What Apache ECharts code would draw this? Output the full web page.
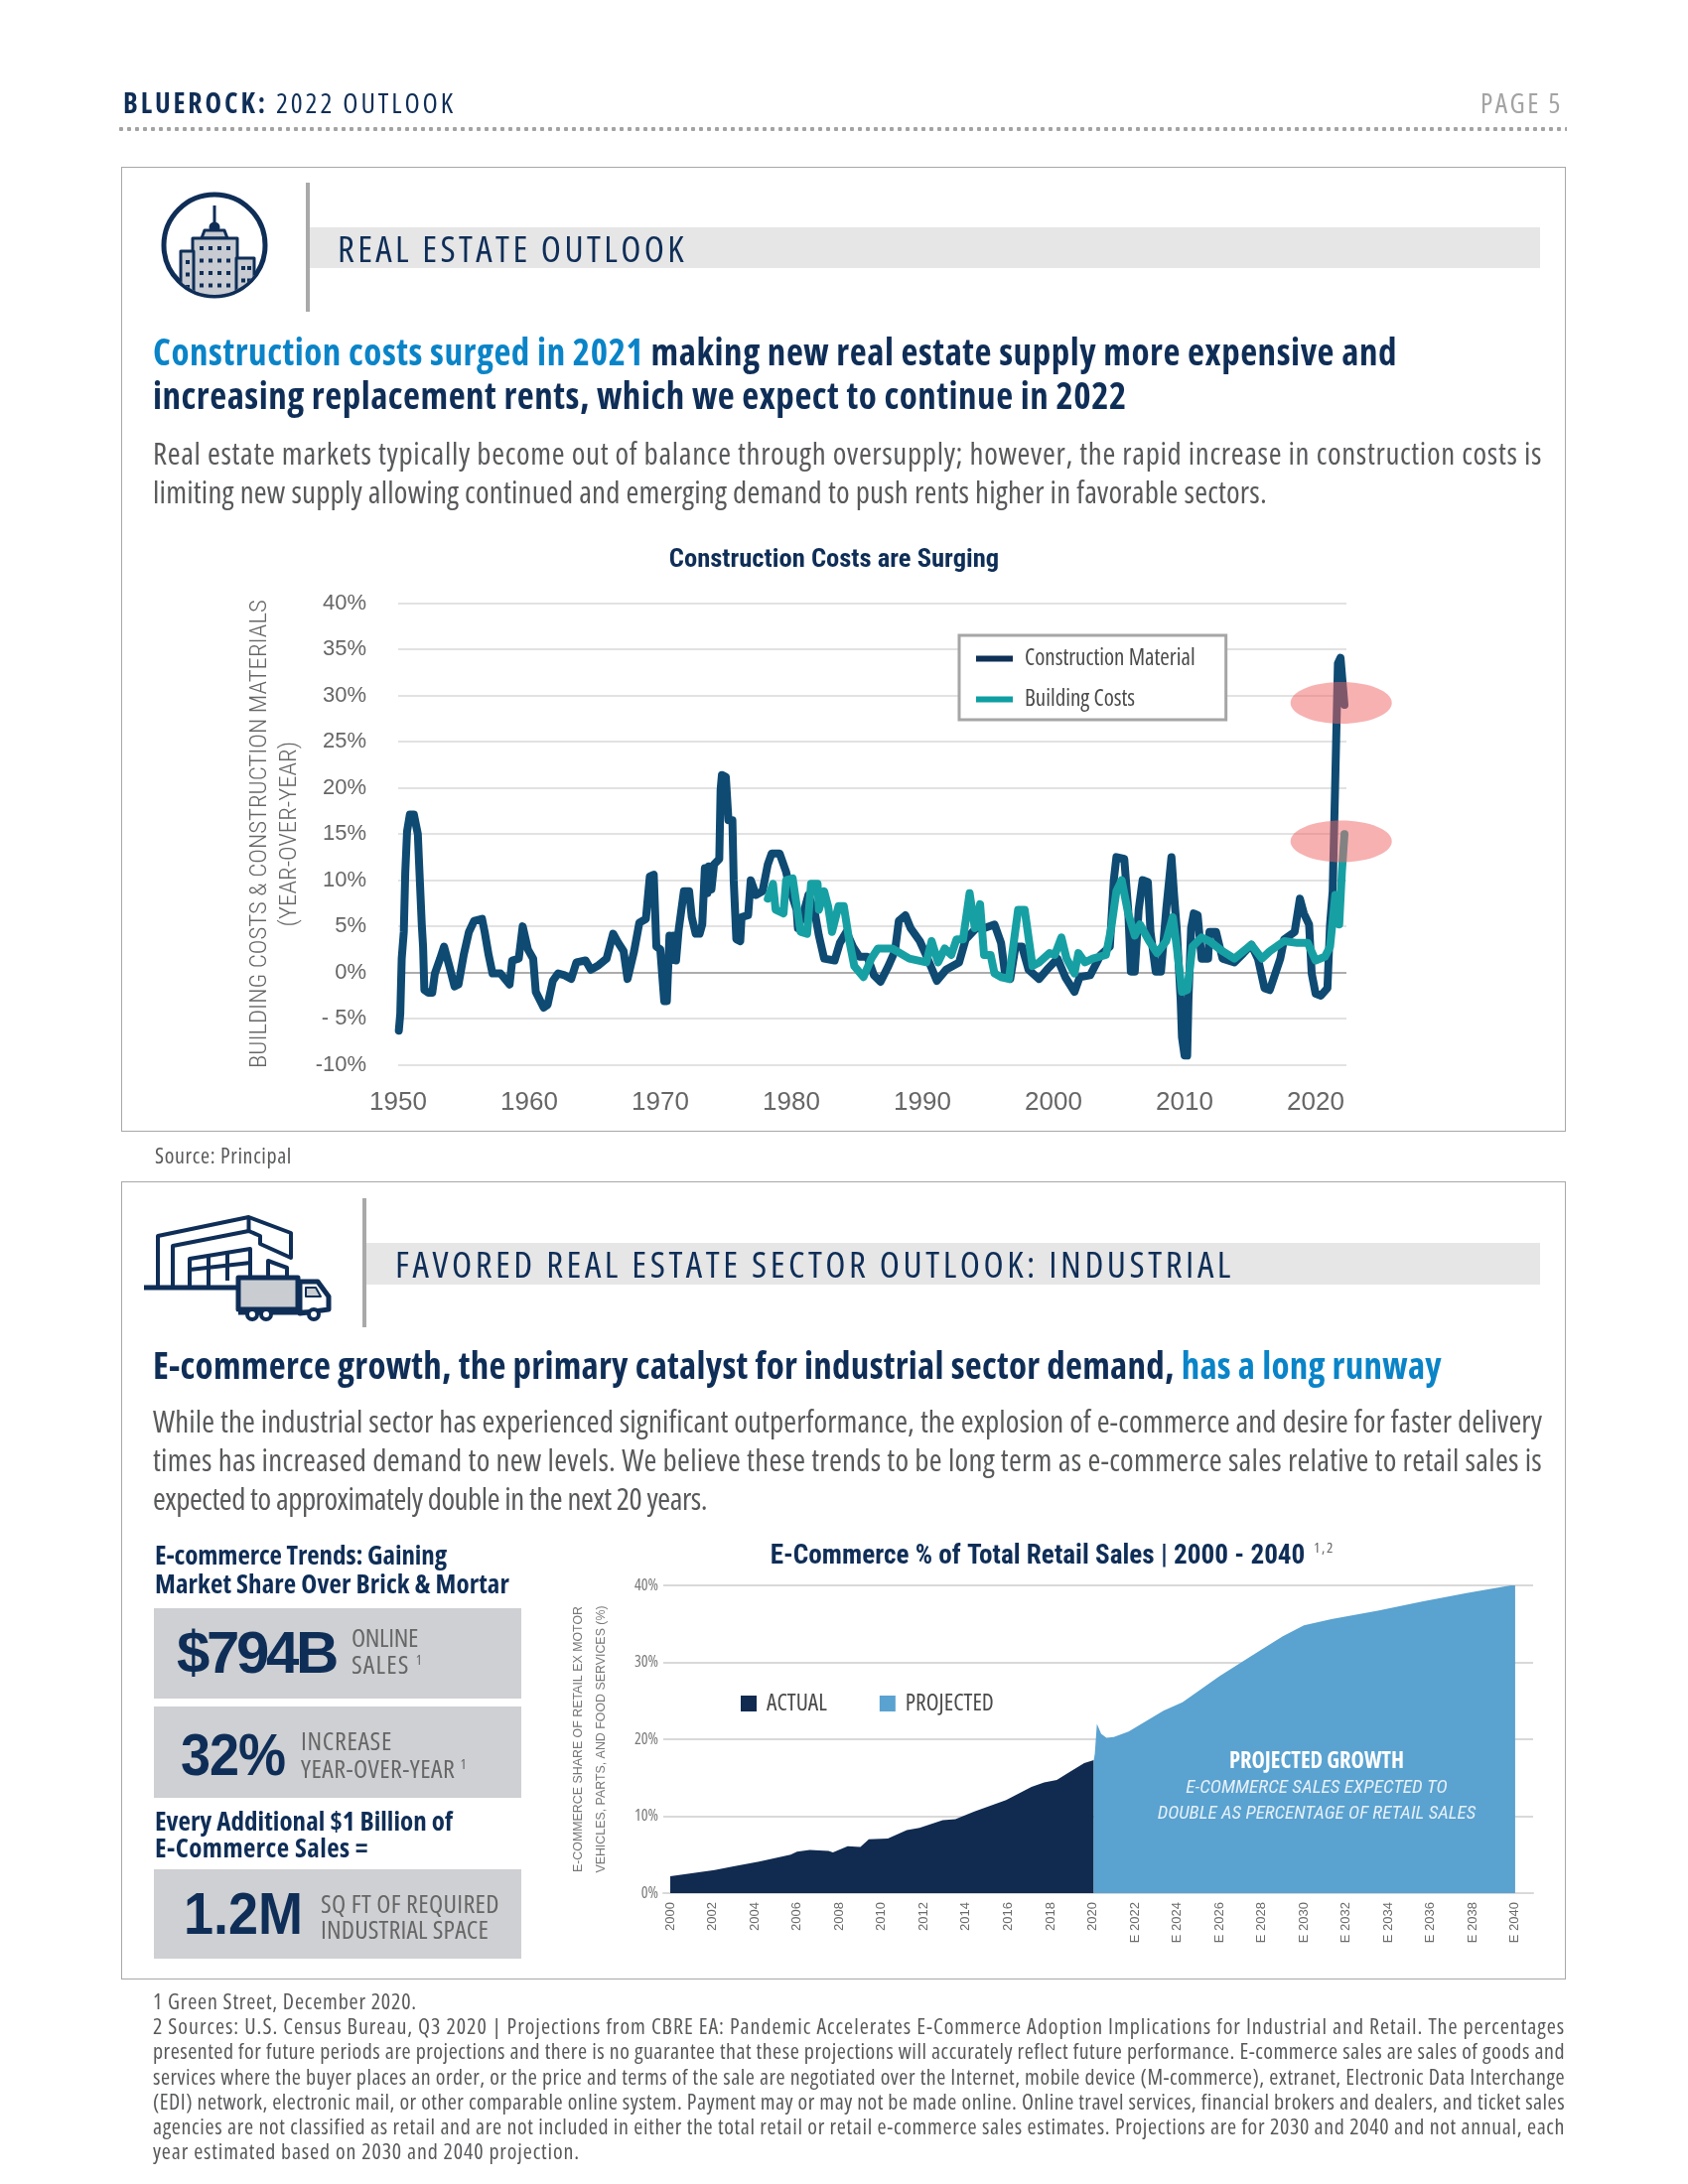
<!DOCTYPE html>
<html><head><meta charset="utf-8"><title>Bluerock 2022 Outlook</title>
<script src="https://cdn.jsdelivr.net/npm/echarts@6/dist/echarts.min.js"></script>
<style>
html,body{margin:0;padding:0;background:#fff;}
#page{position:relative;width:1700px;height:2200px;overflow:hidden;font-family:"Open Sans",sans-serif;font-stretch:75%;}
.box{position:absolute;box-sizing:border-box;}
.t{position:absolute;white-space:nowrap;transform-origin:left center;line-height:1.2;}
#chart{position:absolute;left:0;top:0;width:1700px;height:2200px;}
svg{position:absolute;left:0;top:0;}
sup{font-size:55%;line-height:0;vertical-align:baseline;position:relative;top:-.6em;}
</style></head><body>
<div id="page">
<div class="box" style="left:118px;top:126px;width:1460px;height:8px;background-image:radial-gradient(circle,#a3a3a3 2px,transparent 2.5px);background-size:8px 8px;"></div>
<div class="box" style="left:122px;top:168px;width:1455px;height:972px;border:1.5px solid #a8a8a8;"></div>
<div class="box" style="left:122px;top:1190px;width:1455px;height:804px;border:1.5px solid #a8a8a8;"></div>
<div class="box" style="left:308px;top:184px;width:4px;height:130px;background:#a9a9a9;"></div>
<div class="box" style="left:312px;top:229px;width:1239px;height:41px;background:#e6e6e7;"></div>
<div class="box" style="left:365px;top:1207px;width:4px;height:130px;background:#a9a9a9;"></div>
<div class="box" style="left:369px;top:1252px;width:1182px;height:42px;background:#e6e6e7;"></div>
<div class="box" style="left:155px;top:1620px;width:370px;height:91px;background:#cfd0d3;"></div>
<div class="box" style="left:155px;top:1719px;width:370px;height:92px;background:#cfd0d3;"></div>
<div class="box" style="left:155px;top:1883px;width:370px;height:90px;background:#cfd0d3;"></div>
<svg width="1700" height="2200" fill="none" stroke="#0f2e57" stroke-linejoin="round">
  <defs><clipPath id="cc"><circle cx="216" cy="247" r="50"/></clipPath></defs>
  <circle cx="216" cy="247" r="51" stroke-width="5"/>
  <g clip-path="url(#cc)" stroke-width="3">
    <path d="M216 207V228" stroke-width="3"/>
    <circle cx="216" cy="229" r="4" fill="#0f2e57"/>
    <path d="M203 240L206 232H226L229 240Z" fill="#c8cbd1"/>
    <rect x="194" y="240" width="45" height="62" fill="#c8cbd1"/>
    <rect x="182" y="253" width="13" height="50" fill="#c8cbd1"/>
    <rect x="238" y="260" width="18" height="42" fill="#c8cbd1"/>
    <g stroke="#0f2e57" stroke-width="4" stroke-dasharray="4 8.5">
      <path d="M203 248V300"/><path d="M212 248V300"/><path d="M221 248V300"/><path d="M230 248V300"/>
      <path d="M189 262V300"/><path d="M245 268V300"/><path d="M251 268V300"/>
    </g>
  </g>
  <g stroke-width="4">
    <path d="M145 1297H241" stroke-width="5"/>
    <path d="M159 1297V1245L250.500 1226L293 1242V1267L262 1253V1245L250.500 1240L174 1255V1297"/>
    <path d="M250.500 1226V1240"/>
    <path d="M191 1297V1268L252 1258V1287"/><path d="M191 1279L252 1272"/>
    <path d="M210 1265V1297"/><path d="M229 1262V1290"/>
    <path d="M270 1287V1270L289 1277V1287"/>
    <rect x="240" y="1287" width="60" height="32" fill="#c9ccd1" stroke-width="5"/>
    <path d="M302 1291H320L331 1306V1319L302 1323Z" fill="#fff" stroke-width="5"/>
    <path d="M308 1297H318L323 1306H308Z" fill="#c9ccd1" stroke-width="2"/>
    <path d="M240 1322H312" stroke-width="5"/>
    <circle cx="254" cy="1324" r="5" fill="#fff"/><circle cx="268" cy="1324" r="5" fill="#fff"/><circle cx="316" cy="1324" r="5" fill="#fff"/>
  </g>
</svg>
<div id="chart"></div>
<div id="texts"></div>
</div>
<script>
// ---------- chart 1 data: Construction Material ----------
const materialYears = [1950.05,1950.16,1950.27,1950.43,1950.54,1950.68,1950.89,1951.2,1951.5,1951.6,1951.8,1951.9,1952.0,1952.3,1952.6,1952.8,1953.2,1953.5,1953.9,1954.3,1954.6,1955.0,1955.4,1955.8,1956.4,1956.6,1956.9,1957.2,1957.8,1958.5,1958.7,1959.2,1959.5,1959.9,1960.3,1960.5,1961.1,1961.4,1961.8,1962.2,1962.7,1963.2,1963.6,1964.3,1964.7,1965.3,1965.9,1966.4,1966.8,1967.2,1967.5,1968.0,1968.4,1968.9,1969.2,1969.5,1969.6,1969.7,1970.0,1970.3,1970.5,1970.7,1970.8,1971.0,1971.2,1971.4,1971.8,1972.2,1972.4,1972.7,1973.0,1973.2,1973.4,1973.6,1973.7,1973.9,1974.1,1974.5,1974.6,1974.7,1975.0,1975.2,1975.5,1975.6,1975.8,1976.1,1976.2,1976.7,1976.9,1977.3,1977.8,1978.2,1978.5,1979.1,1979.6,1979.9,1980.4,1980.5,1981,1981.3,1981.8,1982.1,1982.5,1983.3,1983.7,1984.2,1984.7,1985.2,1985.8,1986.3,1986.8,1987.4,1987.9,1988.2,1988.7,1989.1,1989.8,1990.4,1991.1,1991.8,1992.8,1993.3,1994.1,1994.7,1995.5,1996,1996.3,1996.7,1997.1,1997.6,1998.1,1998.9,1999.5,2000.3,2000.9,2001.6,2002.0,2002.8,2003.6,2004.3,2004.6,2004.8,2005.4,2005.7,2005.9,2006.2,2006.5,2006.8,2007.2,2007.4,2007.8,2008.2,2008.6,2009,2009.2,2009.4,2009.7,2009.8,2010,2010.2,2010.3,2010.5,2010.7,2011,2011.3,2011.8,2011.9,2012.4,2012.9,2013.8,2014.5,2015.1,2015.6,2016.1,2016.5,2017.3,2017.6,2018.4,2018.8,2019.1,2019.5,2019.7,2020,2020.4,2020.9,2021.1,2021.3,2021.5,2021.7,2021.9,2022.2];
const materialValues = [-6.3,-4.5,1.5,4.4,10.8,15.3,17.1,17.1,15,11.7,5.2,2.8,-1.9,-2.2,-2.2,-0.1,1.5,2.8,0.7,-1.5,-1.3,1.9,4.4,5.6,5.8,4.4,1.9,-0.1,-0.1,-1.3,1.3,1.5,5,2.5,1.5,-2.1,-3.8,-3.5,-0.9,-0.1,-0.3,-0.7,1.1,1.3,0.3,0.8,1.5,4.2,3.2,2.3,-0.7,2.3,5.4,5.8,10.4,10.6,6.8,2.8,2.5,-3.1,-3.1,4,1.3,4,1.3,4.6,8.8,8.8,6,4.2,4.2,5.2,11.3,8.6,11.5,9,11.7,12.3,19.8,21.4,21.2,16.5,16.5,10,3.6,3.4,6,6.2,10,8.4,8.8,11.7,12.9,12.9,10.9,9,6.8,4.8,6.8,8.4,6.4,4,1.5,1.3,3.2,4.4,2.8,1.7,1.7,-0.3,-1,0.7,2.3,5.6,6.2,4.8,3.4,1.5,-0.9,0.3,1.1,3.6,4.8,4.8,5.2,3.2,-0.1,-0.7,2.8,2.8,0.3,-0.7,0.3,1.5,-0.5,-2.1,-0.5,-0.3,1.9,2.8,10,12.5,12.3,6.8,0.1,0.1,6.8,10,9.8,4.4,0.1,0.1,6.8,12.5,8.4,4.8,-2.9,-7,-9,-9,-2.9,4.8,6.4,6.2,1.5,1.5,4.4,4.4,1.5,1.1,2.1,3,1.5,-1.7,-1.9,1.5,3.6,4.4,8,6.4,5.2,-0.1,-2.3,-2.5,-1.7,5.2,8.8,21,33.5,34.1,29];
// ---------- chart 1 data: Building Costs ----------
const buildingYears = [1978.2,1978.6,1978.8,1979.4,1979.6,1980.1,1980.7,1981.2,1981.5,1982,1982.1,1982.5,1982.8,1983.1,1983.6,1984.0,1984.4,1984.8,1985.5,1986.1,1986.6,1987.7,1989,1990.3,1990.7,1991.2,1991.7,1992.2,1992.6,1993.1,1993.6,1994,1994.4,1994.7,1995.2,1995.5,1996,1996.6,1997,1997.3,1997.8,1998.4,1998.9,1999.7,2000.1,2000.6,2001,2001.6,2001.9,2002.4,2003,2004,2004.4,2004.8,2005.2,2005.7,2006.2,2006.6,2007.3,2007.9,2008.6,2009.1,2009.4,2009.8,2010.2,2010.6,2011.3,2011.9,2012.9,2013.8,2015.1,2015.9,2016.5,2017.6,2018.6,2019.4,2020,2020.7,2021.1,2021.5,2021.8,2022,2022.2];
const buildingValues = [8,9.6,6.8,6.4,10,10.2,4.4,4.2,9.6,9.6,6.8,8.8,7.2,4.4,7.2,7.2,3.6,0.7,-0.5,1.5,2.6,2.6,1.5,1.1,3.4,1.1,2.6,1.9,3.6,3.6,8.6,4.8,7.4,1.9,1.9,-0.1,-0.5,-0.7,3.6,6.8,6.8,0.7,1.1,2.1,1.9,3.8,1.5,-0.1,2.1,1.1,1.5,1.9,4.8,8.8,10,6.4,4,5.2,3.4,2.1,3.4,6,2.8,-2.1,-1.9,2.8,3.8,3.4,2.3,1.5,3,1.5,2.3,3.4,3.2,3.2,1.3,1.7,2.8,8.4,5.2,10.8,15];
const costsXTicks = [1950,1960,1970,1980,1990,2000,2010,2020];
const costsYTicks = [-10,-5,0,5,10,15,20,25,30,35,40];
const costsYLabels = ['-10%','- 5%','0%','5%','10%','15%','20%','25%','30%','35%','40%'];
const highlightPoints = [[2021.95,29.2],[2021.95,14.2]];
// ---------- chart 2 data ----------
const actualYears = [2000,2002.1,2003,2004.2,2005.7,2006,2006.6,2007.5,2007.7,2008.4,2009,2009.4,2010.3,2011.2,2011.8,2012.9,2013.5,2014.4,2015.9,2017.1,2017.7,2018.3,2019,2019.6,2020.05];
const actualValues = [2.2,3.0,3.5,4.1,5.0,5.4,5.6,5.5,5.3,6.1,6.0,7.0,7.1,8.2,8.5,9.5,9.6,10.6,12.1,13.8,14.4,14.7,15.9,16.9,17.3];
const projectedYears = [2020.05,2020.1,2020.2,2020.4,2020.65,2021,2021.7,2023.35,2024.25,2026,2027.5,2029,2030,2031.3,2033.5,2035.6,2037.7,2040];
const projectedValues = [17.3,18.1,22,20.7,20.2,20.3,21,23.7,24.8,28.2,30.8,33.4,34.8,35.6,36.7,37.9,39,40.1];
const shareXTicks = [2000,2002,2004,2006,2008,2010,2012,2014,2016,2018,2020,2022,2024,2026,2028,2030,2032,2034,2036,2038,2040];
const shareXLabels = ['2000','2002','2004','2006','2008','2010','2012','2014','2016','2018','2020','E 2022','E 2024','E 2026','E 2028','E 2030','E 2032','E 2034','E 2036','E 2038','E 2040'];
const shareYTicks = [0,10,20,30,40];
const shareYLabels = ['0%','10%','20%','30%','40%'];

const OPEN = '"Open Sans"', RC = '"Roboto Condensed"', SANS = '"Liberation Sans"';
const NAVY = '#0f2e57', BLUE = '#0a84c8', GRAY = '#58595b';
const zip = (a, b) => a.map((v, i) => [v, b[i]]);

const chart = echarts.init(document.getElementById('chart'), null, {renderer: 'canvas'});
const option = {
  animation: false,
  backgroundColor: 'transparent',
  title: [
    {text: 'Construction Costs are Surging', left: 840, top: 551, textAlign: 'center', padding: 0,
     textStyle: {fontFamily: RC, fontSize: 26.6, fontWeight: 'bold', color: NAVY}},
    {text: 'E-Commerce % of Total Retail Sales | 2000 - 2040', left: 1045, top: 1555, textAlign: 'center', padding: 0,
     textStyle: {fontFamily: RC, fontSize: 27.2, fontWeight: 'bold', color: NAVY}}
  ],
  legend: [
    {orient: 'vertical', left: 966, top: 640, padding: [12, 31, 9, 17], itemGap: 18, itemWidth: 37, itemHeight: 6, selectedMode: false,
     backgroundColor: '#fff', borderColor: '#a6a6a6', borderWidth: 3, borderRadius: 0,
     textStyle: {fontFamily: OPEN, fontSize: 23, fontWeight: 'condensed', color: '#4a4a4a', padding: [0, 0, 0, 7]},
     data: [{name: 'Construction Material', icon: 'rect', itemStyle: {color: '#0f3057'}},
            {name: 'Building Costs', icon: 'rect', itemStyle: {color: '#0e9fa3'}}]},
    {orient: 'horizontal', left: 746, top: 1704, padding: 0, itemGap: 53, itemWidth: 16, itemHeight: 16, selectedMode: false,
     textStyle: {fontFamily: OPEN, fontSize: 23.5, fontWeight: 'condensed', color: '#4a4a4a', padding: [0, 0, 0, 5]},
     data: [{name: 'ACTUAL', icon: 'rect'}, {name: 'PROJECTED', icon: 'rect'}]}
  ],
  grid: [
    {left: 401, top: 607.7, width: 955, height: 464.9, containLabel: false},
    {left: 668, top: 1597, width: 876, height: 310, containLabel: false}
  ],
  xAxis: [
    {type: 'value', gridIndex: 0, min: 1950, max: 2022.35,
     axisLine: {show: false}, axisTick: {show: false}, splitLine: {show: false},
     axisLabel: {margin: 25, fontFamily: SANS, fontSize: 26, color: '#666',
       customValues: costsXTicks, formatter: v => String(v)}},
    {type: 'value', gridIndex: 1, min: 1999.67, max: 2040.85,
     axisLine: {show: true, lineStyle: {color: '#d9d9d9', width: 2}}, axisTick: {show: false}, splitLine: {show: false},
     axisLabel: {margin: 9, rotate: 90, fontFamily: SANS, fontSize: 13, color: '#6b6b6b',
       customValues: shareXTicks, formatter: v => shareXLabels[shareXTicks.indexOf(v)]}}
  ],
  yAxis: [
    {type: 'value', gridIndex: 0, min: -10, max: 40, interval: 5,
     name: 'BUILDING COSTS & CONSTRUCTION MATERIALS\n(YEAR-OVER-YEAR)', nameLocation: 'middle', nameRotate: 90, nameGap: 91,
     nameTextStyle: {fontFamily: RC, fontSize: 24.8, lineHeight: 30, fontWeight: 300, color: '#666'},
     axisLine: {show: false}, axisTick: {show: false},
     splitLine: {lineStyle: {color: '#e2e2e2', width: 2}},
     axisLabel: {margin: 32, fontFamily: SANS, fontSize: 22, color: '#666',
       formatter: v => costsYLabels[costsYTicks.indexOf(v)]}},
    {type: 'value', gridIndex: 1, min: 0, max: 40, interval: 10,
     name: 'E-COMMERCE SHARE OF RETAIL EX MOTOR\nVEHICLES, PARTS, AND FOOD SERVICES (%)', nameLocation: 'middle', nameRotate: 90, nameGap: 51,
     nameTextStyle: {fontFamily: SANS, fontSize: 12.4, lineHeight: 23, color: '#777'},
     axisLine: {show: false}, axisTick: {show: false},
     splitLine: {lineStyle: {color: '#d9d9d9', width: 2}},
     axisLabel: {margin: 5, fontFamily: OPEN, fontWeight: 'condensed', fontSize: 16, color: '#777',
       formatter: v => shareYLabels[shareYTicks.indexOf(v)]}}
  ],
  series: [
    {name: 'Construction Material', type: 'line', xAxisIndex: 0, yAxisIndex: 0, symbol: 'none', z: 3,
     lineStyle: {color: '#0e4a72', width: 8, join: 'round', cap: 'round'}, itemStyle: {color: '#0f3057'},
     data: zip(materialYears, materialValues),
     markLine: {silent: true, symbol: 'none', animation: false, label: {show: false},
       lineStyle: {color: '#9a9a9a', width: 1.5, type: 'solid'}, data: [{yAxis: 0}], z: 2}},
    {name: 'Building Costs', type: 'line', xAxisIndex: 0, yAxisIndex: 0, symbol: 'none', z: 4,
     lineStyle: {color: '#17a0a3', width: 8, join: 'round', cap: 'round'}, itemStyle: {color: '#0e9fa3'},
     data: zip(buildingYears, buildingValues)},
    {name: 'ACTUAL', type: 'line', xAxisIndex: 1, yAxisIndex: 1, symbol: 'none', z: 3,
     lineStyle: {width: 0}, itemStyle: {color: '#112b50'}, areaStyle: {color: '#112b50', opacity: 1},
     data: zip(actualYears, actualValues)},
    {name: 'PROJECTED', type: 'line', xAxisIndex: 1, yAxisIndex: 1, symbol: 'none', z: 3,
     lineStyle: {width: 0}, itemStyle: {color: '#5aa2d0'}, areaStyle: {color: '#5aa2d0', opacity: 1},
     data: zip(projectedYears, projectedValues)}
  ]
};
chart.setOption(option);

// highlight ellipses placed through the chart's own scale
const ell = highlightPoints.map(p => chart.convertToPixel({gridIndex: 0}, p));
chart.setOption({graphic: [
  ...ell.map(c => ({type: 'ellipse', z: 20, shape: {cx: c[0], cy: c[1], rx: 51, ry: 21}, style: {fill: 'rgba(240,100,100,0.5)'}})),
  {type: 'text', z: 20, x: 1326, y: 1775, style: {text: 'PROJECTED GROWTH', fill: '#fff', font: 'bold condensed 22.5px "Open Sans"', textAlign: 'center', textVerticalAlign: 'middle'}},
  {type: 'text', z: 20, x: 1326, y: 1801, style: {text: 'E-COMMERCE SALES EXPECTED TO', fill: '#e6f0f8', font: 'italic 19.2px "Roboto Condensed"', textAlign: 'center', textVerticalAlign: 'middle'}},
  {type: 'text', z: 20, x: 1326, y: 1827, style: {text: 'DOUBLE AS PERCENTAGE OF RETAIL SALES', fill: '#e6f0f8', font: 'italic 19px "Roboto Condensed"', textAlign: 'center', textVerticalAlign: 'middle'}}
]});

// page text: html, left, centre-y, target width, size, weight, colour, [wide font scale]
const b = s => '<b>' + s + '</b>';
const blue = s => '<span style="color:' + BLUE + '">' + s + '</span>';
const pageText = [
  [b('BLUEROCK:') + ' 2022 OUTLOOK', 124, 104, 335, 28, 400, NAVY],
  ['PAGE 5', 1491, 104, 83, 28, 400, '#a3a3a3'],
  ['REAL ESTATE OUTLOOK', 340, 250, 352, 37, 400, NAVY],
  [blue('Construction costs surged in 2021') + ' making new real estate supply more expensive and', 154, 354, 1253, 37, 700, NAVY],
  ['increasing replacement rents, which we expect to continue in 2022', 154, 398, 981, 37, 700, NAVY],
  ['Real estate markets typically become out of balance through oversupply; however, the rapid increase in construction costs is', 154, 457, 1399, 31, 400, GRAY],
  ['limiting new supply allowing continued and emerging demand to push rents higher in favorable sectors.', 154, 496, 1122, 31, 400, GRAY],
  ['Source: Principal', 156, 1163, 138, 22, 400, GRAY],
  ['FAVORED REAL ESTATE SECTOR OUTLOOK: INDUSTRIAL', 398, 1273, 845, 37, 400, NAVY],
  ['E-commerce growth, the primary catalyst for industrial sector demand, ' + blue('has a long runway'), 154, 1375, 1298, 37, 700, NAVY],
  ['While the industrial sector has experienced significant outperformance, the explosion of e-commerce and desire for faster delivery', 154, 1432, 1399, 31, 400, GRAY],
  ['times has increased demand to new levels. We believe these trends to be long term as e-commerce sales relative to retail sales is', 154, 1471, 1399, 31, 400, GRAY],
  ['expected to approximately double in the next 20 years.', 154, 1510, 558, 31, 400, GRAY],
  ['E-commerce Trends: Gaining', 156, 1566, 294, 27, 700, NAVY],
  ['Market Share Over Brick &amp; Mortar', 156, 1595, 357, 27, 700, NAVY],
  ['$794B', 178, 1665, 160, 60, 700, NAVY, 1],
  ['ONLINE', 354, 1650, 67, 26, 400, '#666'],
  ['SALES <sup>1</sup>', 354, 1677, 72, 26, 400, '#666'],
  ['32%', 182, 1768, 105, 60, 700, NAVY, 0.9],
  ['INCREASE', 303, 1754, 92, 26, 400, '#666'],
  ['YEAR-OVER-YEAR <sup>1</sup>', 303, 1782, 167, 26, 400, '#666'],
  ['Every Additional $1 Billion of', 156, 1834, 300, 27, 700, NAVY],
  ['E-Commerce Sales =', 156, 1861, 215, 27, 700, NAVY],
  ['1.2M', 185, 1928, 120, 60, 700, NAVY, 0.9],
  ['SQ FT OF REQUIRED', 323, 1918, 180, 26, 400, '#666'],
  ['INDUSTRIAL SPACE', 323, 1944, 169, 26, 400, '#666'],
  ['1,2', 1323, 1558, 21, 15, 400, '#666'],
  ['1 Green Street, December 2020.', 154, 2015, 266, 22, 400, GRAY],
  ['2 Sources: U.S. Census Bureau, Q3 2020 | Projections from CBRE EA: Pandemic Accelerates E-Commerce Adoption Implications for Industrial and Retail. The percentages', 154, 2040, 1422, 22, 400, GRAY],
  ['presented for future periods are projections and there is no guarantee that these projections will accurately reflect future performance. E-commerce sales are sales of goods and', 154, 2065, 1422, 22, 400, GRAY],
  ['services where the buyer places an order, or the price and terms of the sale are negotiated over the Internet, mobile device (M-commerce), extranet, Electronic Data Interchange', 154, 2091, 1422, 22, 400, GRAY],
  ['(EDI) network, electronic mail, or other comparable online system. Payment may or may not be made online. Online travel services, financial brokers and dealers, and ticket sales', 154, 2116, 1422, 22, 400, GRAY],
  ['agencies are not classified as retail and are not included in either the total retail or retail e-commerce sales estimates. Projections are for 2030 and 2040 and not annual, each', 154, 2141, 1422, 22, 400, GRAY],
  ['year estimated based on 2030 and 2040 projection.', 154, 2166, 430, 22, 400, GRAY]
];
const host = document.getElementById('texts');
pageText.forEach(([html, x, y, w, size, weight, color, wide]) => {
  const d = document.createElement('div');
  d.className = 't';
  d.innerHTML = html;
  d.style.cssText = `left:${x}px;top:${y}px;font-size:${size}px;font-weight:${weight};color:${color};` +
    (wide ? 'font-family:"Liberation Sans";font-stretch:100%;' : '');
  host.appendChild(d);
  const s = wide || 1;
  const natural = d.getBoundingClientRect().width;
  d.style.letterSpacing = ((w / s - natural) / d.textContent.length).toFixed(3) + 'px';
  d.style.transform = `translateY(-50%) scaleX(${s})`;
});
</script>
</body></html>
